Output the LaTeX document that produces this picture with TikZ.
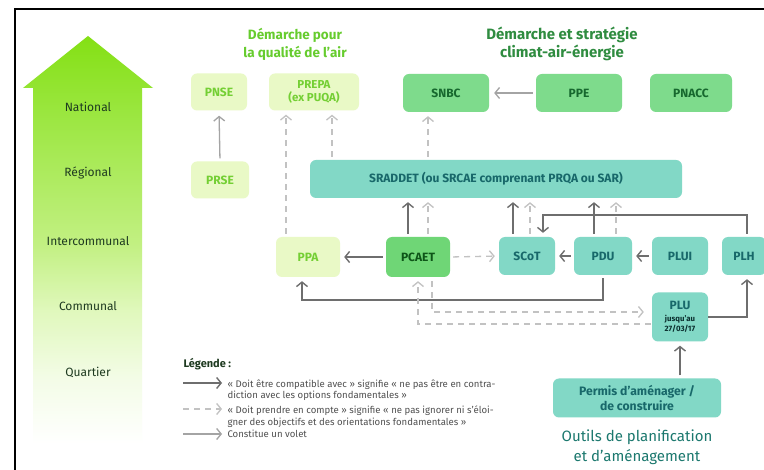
\documentclass[tikz,border=0pt]{standalone}
\usepackage{fontspec}
\setmainfont{Fira Sans}
\usetikzlibrary{arrows.meta,calc}
\definecolor{lvA}{HTML}{F3FCE6}
\definecolor{lvB}{HTML}{E0F8BC}
\definecolor{lvC}{HTML}{C2F082}
\definecolor{lvD}{HTML}{9AE63E}
\definecolor{lvE}{HTML}{84E014}
\definecolor{paleF}{HTML}{E9F9C6}
\definecolor{paleT}{HTML}{74CF34}
\definecolor{grnF}{HTML}{7EDB8C}
\definecolor{grnT}{HTML}{17682E}
\definecolor{pcaF}{HTML}{6FD676}
\definecolor{pcaT}{HTML}{0E5518}
\definecolor{tealF}{HTML}{82D8C6}
\definecolor{tealT}{HTML}{18686A}
\definecolor{pluT}{HTML}{0A2E2E}
\definecolor{arrDark}{HTML}{6E6E6E}
\definecolor{arrDash}{HTML}{C2C2C2}
\definecolor{arrLight}{HTML}{A4A4A4}
\definecolor{lvlT}{HTML}{1E3A20}
\definecolor{titA}{HTML}{66CC2E}
\definecolor{titB}{HTML}{2F8C40}
\definecolor{outT}{HTML}{1B786E}
\definecolor{legT}{HTML}{505050}
\newcommand{\plusmall}[1]{{\fontsize{7.8}{9}\selectfont\textcolor{pluT}{#1}}}
\pgfdeclareverticalshading{levelshade}{100bp}{color(0bp)=(white); color(26bp)=(white); color(34bp)=(lvA); color(42bp)=(lvB); color(50bp)=(lvC); color(66bp)=(lvD); color(75bp)=(lvE); color(100bp)=(lvE)}
\tikzset{
  box/.style={rounded corners=6pt, inner sep=0pt, align=center, font=\fontsize{12}{13}\selectfont\bfseries},
  palebox/.style={box, fill=paleF, text=paleT},
  grnbox/.style={box, fill=grnF, text=grnT},
  tealbox/.style={box, fill=tealF, text=tealT},
  tip/.style={-{Straight Barb[length=4.5pt,width=11pt]}},
  cmp/.style={draw=arrDark, line width=1.4pt, tip, shorten >=4pt, shorten <=3pt},
  prc/.style={draw=arrDash, line width=1.3pt, dash pattern=on 6pt off 5pt, tip, shorten >=4pt, shorten <=3pt},
  vol/.style={draw=arrLight, line width=1.3pt, tip, shorten >=5pt, shorten <=3pt},
  lvl/.style={text=lvlT, font=\fontsize{12}{13}\selectfont},
  legtxt/.style={text=legT, anchor=north west, align=left, font=\fontsize{9.6}{11.3}\selectfont},
}
\begin{document}
\begin{tikzpicture}[x=1pt,y=-1pt]
\useasboundingbox (0,0) rectangle (764,470);
\fill[white] (0,0) rectangle (764,470);
\draw[line width=1.2pt] (15,470) -- (15,9) -- (764,9);
% level arrow
\shade[shading=levelshade] (23,88) -- (88,36) -- (153,88) -- (142,88) -- (142,452) -- (33,452) -- (33,88) -- cycle;
\node[lvl] (nat) at (88,107) {National};
\node[lvl] (reg) at (88,173) {Régional};
\node[lvl] (inter) at (88,241) {Intercommunal};
\node[lvl] (com) at (88,306) {Communal};
\node[lvl] (quar) at (88,372) {Quartier};
% titles
\node[text=titA, align=center, font=\fontsize{13.5}{18}\selectfont\bfseries] (titair) at (295,44) {Démarche pour\\la qualité de l’air};
\node[text=titB, align=center, font=\fontsize{15}{18}\selectfont\bfseries] (titclim) at (562,44) {Démarche et stratégie\\climat-air-énergie};
% nodes
\node[palebox, minimum width=56pt, minimum height=37pt] (pnse) at (219,92) {PNSE};
\node[palebox, minimum width=58pt, minimum height=37pt] (prse) at (220,180) {PRSE};
\node[palebox, minimum width=90pt, minimum height=37pt, font=\fontsize{11.5}{13}\selectfont\bfseries] (prepa) at (314,92) {PREPA\\(ex PUQA)};
\node[grnbox, minimum width=86pt, minimum height=38pt] (snbc) at (446,93) {SNBC};
\node[grnbox, minimum width=86pt, minimum height=38pt] (ppe) at (579,93) {PPE};
\node[grnbox, minimum width=82pt, minimum height=38pt] (pnacc) at (691,93) {PNACC};
\node[tealbox, minimum width=372pt, minimum height=38pt] (sraddet) at (496,179) {SRADDET (ou SRCAE comprenant PRQA ou SAR)};
\node[palebox, minimum width=64pt, minimum height=40pt] (ppa) at (308,257) {PPA};
\node[box, fill=pcaF, text=pcaT, minimum width=64pt, minimum height=40pt] (pcaet) at (418,257) {PCAET};
\node[tealbox, minimum width=56pt, minimum height=38pt] (scot) at (527,256) {SCoT};
\node[tealbox, minimum width=58pt, minimum height=38pt] (pdu) at (603,256) {PDU};
\node[tealbox, minimum width=56pt, minimum height=38pt] (plui) at (680,256) {PLUI};
\node[tealbox, minimum width=44pt, minimum height=38pt] (plh) at (744,256) {PLH};
\node[tealbox, minimum width=56pt, minimum height=49pt] (plu) at (680,317) {PLU\\[-1.5pt]\plusmall{jusqu’au}\\[-2.5pt]\plusmall{27/03/17}};
\node[tealbox, minimum width=168pt, minimum height=39pt, font=\fontsize{12.2}{15}\selectfont\bfseries] (permis) at (637,398) {Permis d’aménager /\\de construire};
\node[text=outT, align=center, font=\fontsize{15}{20}\selectfont] (outils) at (637,447) {Outils de planification\\et d’aménagement};
% connectors
\draw[vol] (prse.north) -- (pnse.south);
\draw[vol] (ppe.west) -- (snbc.east);
\draw[prc] (sraddet.north -| 428,0) -- (snbc.south -| 428,0);
\draw[prc] (sraddet.north -| 332,0) -- (prepa.south -| 332,0);
\draw[prc] (ppa.north -| 286,0) -- (prepa.south -| 286,0);
\draw[cmp] (pcaet.north -| 408,0) -- (sraddet.south -| 408,0);
\draw[prc] (pcaet.north -| 428,0) -- (sraddet.south -| 428,0);
\draw[cmp] (pcaet.west) -- (ppa.east);
\draw[prc] (pcaet.east) -- (scot.west);
\draw[cmp] (scot.north -| 513,0) -- (sraddet.south -| 513,0);
\draw[prc] (scot.north -| 530,0) -- (sraddet.south -| 530,0);
\draw[cmp] (pdu.north -| 594,0) -- (sraddet.south -| 594,0);
\draw[prc] (pdu.north -| 616,0) -- (sraddet.south -| 616,0);
\draw[cmp] (pdu.west) -- (scot.east);
\draw[cmp] (plui.west) -- (pdu.east);
\coordinate (plhup) at (747,215);
\draw[cmp] (plh.north -| plhup) -- (plhup) -| (scot.north -| 543,0);
\coordinate (pdudown) at (603,300);
\draw[cmp] (pdu.south) -- (pdudown) -| (ppa.south -| 302,0);
\coordinate (pcaDash) at (432,312);
\draw[prc, shorten >=8pt, shorten <=4pt] (pcaet.south -| pcaDash) -- (pcaDash) -- (plu.west |- pcaDash);
\coordinate (pluDash) at (418,324);
\draw[prc, shorten <=1pt] (plu.west |- pluDash) -- (pluDash) -- (pcaet.south -| pluDash);
\draw[cmp, shorten <=0pt] (plu.east |- 0,317) -| (plh.south -| plhup);
\draw[cmp] (permis.north -| plu.south) -- (plu.south);
% legend
\node[anchor=west, text=lvlT, font=\fontsize{11}{12}\selectfont\bfseries] (leg) at (180,364) {Légende :};
\coordinate (la1) at (183,383); \coordinate (lb1) at (222,383);
\coordinate (la2) at (183,409); \coordinate (lb2) at (222,409);
\coordinate (la3) at (183,434); \coordinate (lb3) at (222,434);
\draw[cmp, shorten >=0pt, shorten <=0pt] (la1) -- (lb1);
\draw[prc, shorten >=0pt, shorten <=0pt] (la2) -- (lb2);
\draw[vol, shorten >=0pt, shorten <=0pt] (la3) -- (lb3);
\node[legtxt] (leg1) at (224,376.5) {« Doit être compatible avec » signifie « ne pas être en contra-\\diction avec les options fondamentales »};
\node[legtxt] (leg2) at (224,402.5) {« Doit prendre en compte » signifie « ne pas ignorer ni s’éloi-\\gner des objectifs et des orientations fondamentales »};
\node[legtxt, anchor=west] (leg3) at (224,434) {Constitue un volet};
\end{tikzpicture}
\end{document}
